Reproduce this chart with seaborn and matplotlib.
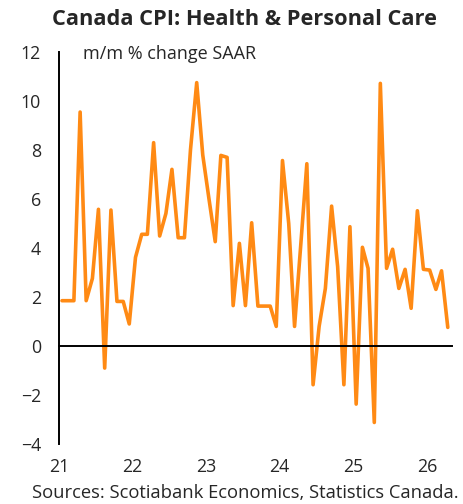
import matplotlib
matplotlib.use("Agg")
import matplotlib.pyplot as plt
import matplotlib.dates as mdates
import pandas as pd
import seaborn as sns

# Canada CPI health & personal care, m/m % change SAAR (Jan 2021 - Apr 2026)
months = pd.date_range("2021-01-01", "2026-04-01", freq="MS") + pd.Timedelta(days=14)
cpi_health = [
    1.85, 1.85, 1.85, 9.55, 1.85, 2.76, 5.58, -0.9, 5.55, 1.82, 1.82, 0.9,
    3.62, 4.56, 4.56, 8.3, 4.49, 5.41, 7.21, 4.42, 4.42, 8.0, 10.75, 7.8,
    6.0, 4.26, 7.78, 7.7, 1.65, 4.19, 1.65, 5.03, 1.63, 1.63, 1.63, 0.8,
    7.57, 5.0, 0.8, 4.15, 7.44, -1.58, 0.8, 2.35, 5.71, 3.24, -1.58, 4.87,
    -2.37, 4.03, 3.17, -3.12, 10.72, 3.17, 3.95, 2.35, 3.13, 1.54, 5.52, 3.13,
    3.1, 2.31, 3.07, 0.76,
]
year_ticks = pd.date_range("2021-01-01", "2026-01-01", freq="YS")
year_labels = ["21", "22", "23", "24", "25", "26"]
y_ticks = [-4, -2, 0, 2, 4, 6, 8, 10, 12]

df = pd.DataFrame({"date": months, "value": cpi_health})

sns.set_style("white")
plt.rcParams["font.family"] = ["Open Sans", "DejaVu Sans"]

fig = plt.figure(figsize=(4.63, 5.04), dpi=100)
ax = fig.add_axes([0.1274, 0.119, 0.848, 0.7778])

sns.lineplot(data=df, x="date", y="value", ax=ax, color="#FF8A14", linewidth=2.6)

ax.set_ylim(-4, 12)
ax.set_xlim(pd.Timestamp("2020-12-31"), pd.Timestamp("2026-05-04"))
ax.set_yticks(y_ticks)
ax.set_xlabel("")
ax.set_ylabel("")

# zero line acts as the x axis, labels sit below the plot
ax.spines["bottom"].set_position(("data", 0))
ax.spines["top"].set_visible(False)
ax.spines["right"].set_visible(False)
for s in ["left", "bottom"]:
    ax.spines[s].set_color("black")
    ax.spines[s].set_linewidth(1.4)
ax.set_xticks(year_ticks)
ax.tick_params(axis="x", direction="out", length=5, width=1.4, labelbottom=False)
ax.tick_params(axis="y", direction="in", length=5, width=1.4, labelsize=12.8, pad=13)

sec = ax.secondary_xaxis(0)
sec.set_xticks(mdates.date2num(year_ticks))
sec.set_xticklabels(year_labels)
sec.spines["bottom"].set_visible(False)
sec.tick_params(axis="x", length=0, labelsize=12.8, pad=10)

ax.text(0.062, 0.995, "m/m % change SAAR", transform=ax.transAxes,
        fontsize=13, va="center", ha="left")
fig.text(0.529, 0.961, "Canada CPI: Health & Personal Care",
         fontsize=15.7, fontweight="bold", ha="center", va="center")
fig.text(0.99, 0.021, "Sources: Scotiabank Economics, Statistics Canada.",
         fontsize=13.2, ha="right", va="center")

fig.savefig("out.png", dpi=100)
